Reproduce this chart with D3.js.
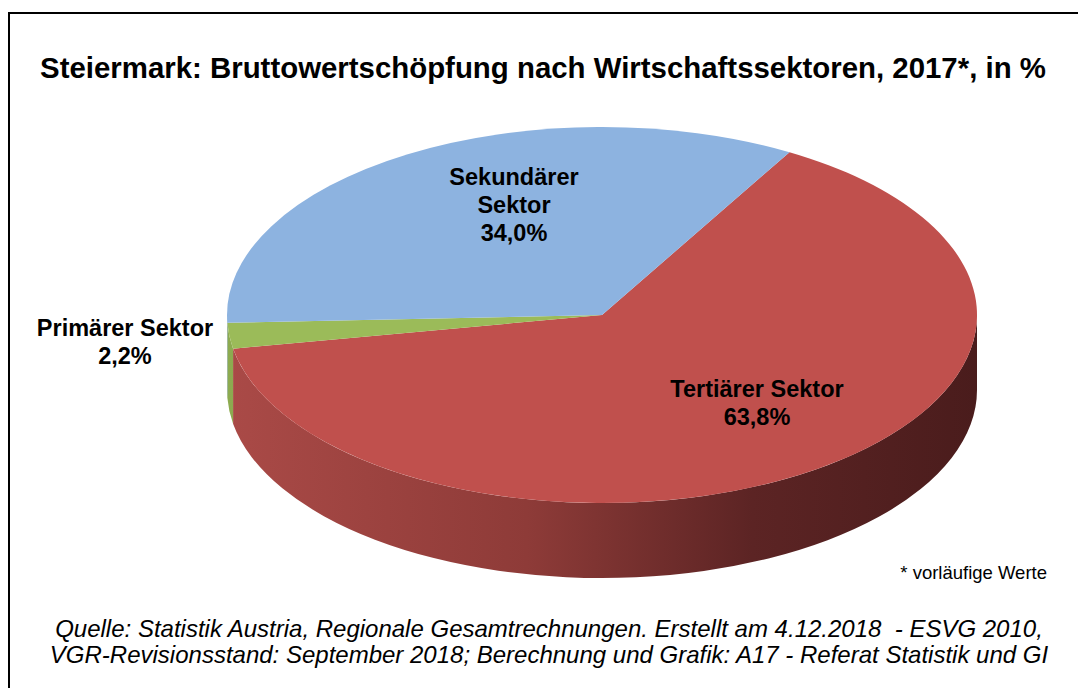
<!DOCTYPE html>
<html>
<head>
<meta charset="utf-8">
<script src="https://cdn.jsdelivr.net/npm/d3@7/dist/d3.min.js"></script>
<style>
  html, body { margin: 0; padding: 0; background: #fff; }
  svg { display: block; font-family: "Liberation Sans", Arial, sans-serif; }
</style>
</head>
<body>
<div id="chart"></div>
<script>
// data (order = drawing order of the pie, clockwise from the top-right cut)
const sectors = ["Tertiärer Sektor", "Primärer Sektor", "Sekundärer Sektor"];
const shares = [63.8, 2.2, 34.0];
const labelLines = [["Tertiärer Sektor", "63,8%"], ["Primärer Sektor", "2,2%"], ["Sekundärer", "Sektor", "34,0%"]];

const titleText = "Steiermark: Bruttowertschöpfung nach Wirtschaftssektoren, 2017*, in %";
const footnote = "* vorläufige Werte";
const sourceLines = [
    "Quelle: Statistik Austria, Regionale Gesamtrechnungen. Erstellt am 4.12.2018  - ESVG 2010,",
    "VGR-Revisionsstand: September 2018; Berechnung und Grafik: A17 - Referat Statistik und GI"
];

// styles / layout
const topColors = { "Tertiärer Sektor": "#c0504d", "Primärer Sektor": "#9bbb59", "Sekundärer Sektor": "#8db3e0" };
const sideStops = {
    "Tertiärer Sektor": ["#aa4a47", "#8e3b38", "#5c2424", "#4a1c1c"],
    "Primärer Sektor": ["#8dab50", "#7a9645", "#55692f", "#445426"],
    "Sekundärer Sektor": ["#7a9cc6", "#6a88ad", "#4a5f79", "#3b4c61"]
};
const labelPos = {
    "Tertiärer Sektor": [757, 397],
    "Primärer Sektor": [125, 336],
    "Sekundärer Sektor": [514, 185]
};

const width = 1078, height = 688;
const cx = 602, cy = 315, rx = 375, ry = 188, depth = 75;

const svg = d3.select("#chart").append("svg")
    .attr("width", width)
    .attr("height", height);

// frame
svg.append("rect")
    .attr("x", 9).attr("y", 13)
    .attr("width", width + 20).attr("height", height + 20)
    .attr("fill", "#fff")
    .attr("stroke", "#000")
    .attr("stroke-width", 2);

svg.append("text")
    .attr("x", 543).attr("y", 78)
    .attr("text-anchor", "middle")
    .style("font-size", "29.4px")
    .style("font-weight", "bold")
    .text(titleText);

const pie = d3.pie()
    .sort(null)
    .startAngle(Math.PI / 6)
    .endAngle(Math.PI / 6 + 2 * Math.PI);

const slices = pie(shares).map((d, i) => Object.assign(d, { name: sectors[i], lines: labelLines[i] }));

const px = a => cx + rx * Math.sin(a);
const py = (a, dy) => cy - ry * Math.cos(a) + (dy || 0);

// gradients for the side walls
const defs = svg.append("defs");
slices.forEach((d, i) => {
    const g = defs.append("linearGradient")
        .attr("id", "side" + i)
        .attr("gradientUnits", "userSpaceOnUse")
        .attr("x1", cx - rx).attr("x2", cx + rx)
        .attr("y1", 0).attr("y2", 0);
    const st = sideStops[d.name];
    [0, 0.4, 0.7, 1].forEach((o, k) => {
        g.append("stop").attr("offset", o).attr("stop-color", st[k]);
    });
});

// side walls (front half only: angles between PI/2 and 3PI/2)
function sidePath(a0, a1) {
    return "M" + px(a0) + "," + py(a0)
        + "A" + rx + "," + ry + " 0 0 1 " + px(a1) + "," + py(a1)
        + "L" + px(a1) + "," + py(a1, depth)
        + "A" + rx + "," + ry + " 0 0 0 " + px(a0) + "," + py(a0, depth)
        + "Z";
}

const lo = Math.PI / 2, hi = 3 * Math.PI / 2;
svg.append("g").selectAll("path")
    .data(slices.filter(d => d.endAngle > lo && d.startAngle < hi))
    .enter().append("path")
    .attr("d", d => sidePath(Math.max(d.startAngle, lo), Math.min(d.endAngle, hi)))
    .attr("fill", d => "url(#side" + d.index + ")");

// top faces
const arc = d3.arc().innerRadius(0).outerRadius(rx);
svg.append("g")
    .attr("transform", "translate(" + cx + "," + cy + ") scale(1," + (ry / rx) + ")")
    .selectAll("path")
    .data(slices)
    .enter().append("path")
    .attr("d", arc)
    .attr("fill", d => topColors[d.name]);

// labels
const labels = svg.append("g")
    .style("font-size", "23.5px")
    .style("font-weight", "bold")
    .attr("text-anchor", "middle");

slices.forEach(d => {
    const p = labelPos[d.name];
    const t = labels.append("text").attr("x", p[0]).attr("y", p[1]);
    d.lines.forEach((line, k) => {
        t.append("tspan").attr("x", p[0]).attr("dy", k === 0 ? 0 : 28).text(line);
    });
});

svg.append("text")
    .attr("x", 1047).attr("y", 579)
    .attr("text-anchor", "end")
    .style("font-size", "18.5px")
    .text(footnote);

svg.append("g")
    .style("font-size", "24px")
    .style("font-style", "italic")
    .attr("text-anchor", "middle")
    .selectAll("text")
    .data(sourceLines)
    .enter().append("text")
    .attr("xml:space", "preserve")
    .style("white-space", "pre")
    .attr("x", 549)
    .attr("y", (d, i) => 637 + i * 26)
    .text(d => d);
</script>
</body>
</html>
